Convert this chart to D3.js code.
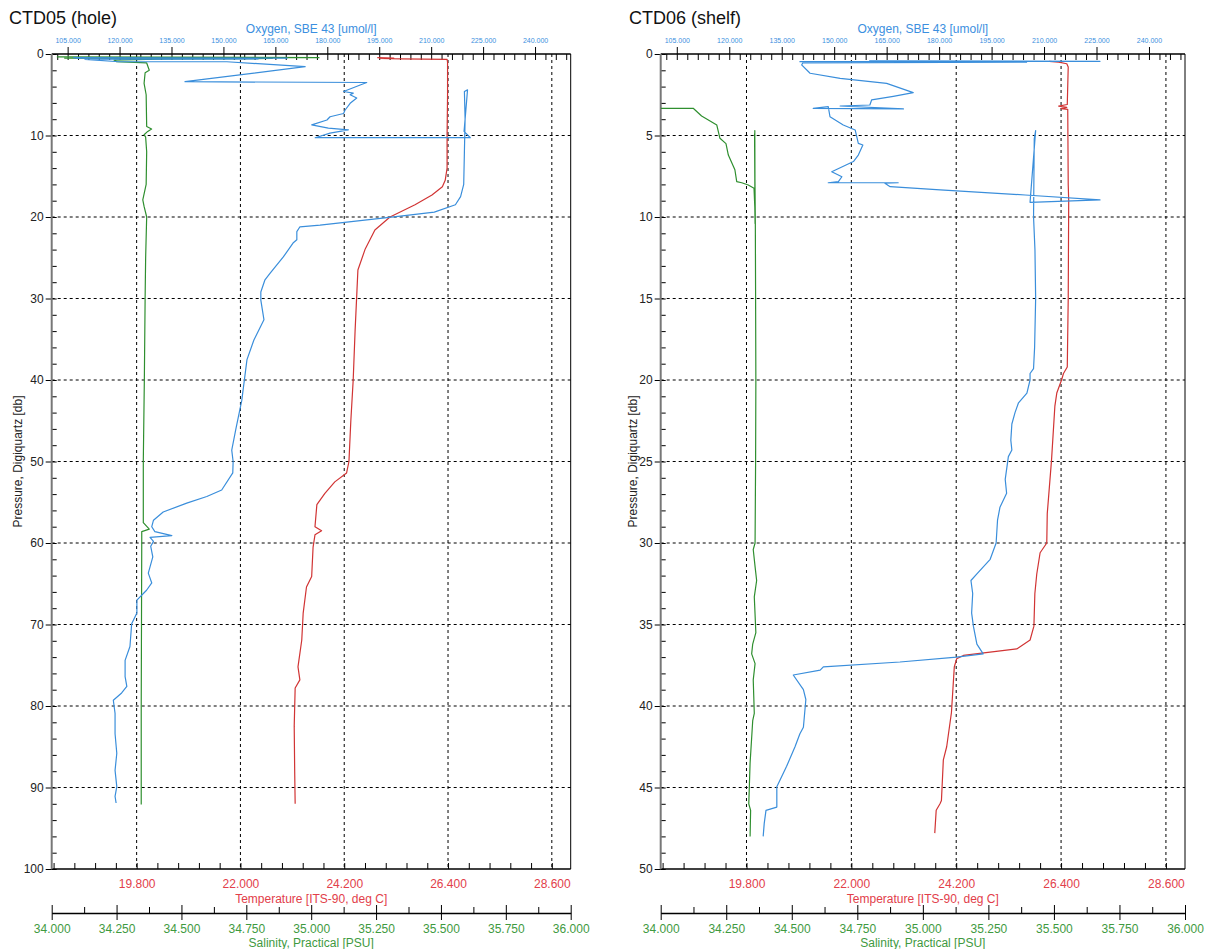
<html>
  <meta charset="utf-8" />
  <script src="https://d3js.org/d3.v7.min.js"></script>
  <style>
    body { margin: 0; background: #fff; }
    text { font-family: "Liberation Sans", Arial, sans-serif; }
  </style>
  <body>
    <div id="chart"></div>

    <script>
      // ---- data: [pressure (db), value] ----
      const ctd05Temp = [
        [0.45, 24.9], [0.5, 25.25], [0.55, 24.95], [0.6, 25.4], [0.65, 26.38], [1.0, 26.39],
        [5, 26.39], [10, 26.38], [14, 26.38], [15.5, 26.34], [16.3, 26.28], [17.3, 26.06],
        [18.5, 25.7], [20.0, 25.17], [21.6, 24.85], [24.0, 24.64], [26.5, 24.49], [29, 24.47],
        [34, 24.43], [40, 24.39], [45, 24.34], [50, 24.3], [51.4, 24.25], [52.5, 24.0],
        [53.9, 23.79], [55.3, 23.62], [58.0, 23.58], [58.5, 23.72], [59.0, 23.58], [60.5, 23.54],
        [64.1, 23.51], [65.4, 23.4], [68.6, 23.33], [71.9, 23.3], [75.2, 23.22], [76.8, 23.26],
        [77.8, 23.16], [82.5, 23.14], [88, 23.15], [92, 23.16]
      ];
      const ctd05Sal = [
        [0.35, 34.02], [0.45, 35.03], [0.5, 34.05], [0.55, 34.85], [0.6, 34.45], [0.75, 34.24],
        [0.95, 34.25], [1.1, 34.366], [2.0, 34.376], [2.3, 34.36], [3.6, 34.356], [5, 34.364],
        [8.9, 34.366], [9.2, 34.385], [9.5, 34.37], [9.9, 34.356], [10.2, 34.362], [12, 34.366],
        [16, 34.364], [17.9, 34.351], [18.7, 34.356], [20, 34.366], [25, 34.362], [30, 34.36],
        [40, 34.357], [50, 34.353], [57.5, 34.353], [58.3, 34.376], [58.6, 34.347], [60, 34.347],
        [70, 34.346], [80, 34.345], [92.1, 34.345]
      ];
      const ctd05Oxy = [
        [0.45, 106.6], [0.5, 168.4], [0.55, 107.5], [0.6, 160], [0.65, 110], [0.95, 119.8],
        [0.95, 151.0], [1.56, 173.6], [3.4, 138.9], [3.5, 191.4], [3.8, 189.5], [4.6, 184.7],
        [4.8, 187.5], [5.0, 186.6], [5.4, 188.5], [6.05, 186.6], [6.9, 185.1], [7.3, 184.7],
        [7.7, 180.8], [8.1, 179.9], [8.7, 175.5], [9.1, 180.3], [9.3, 186.1], [9.7, 180.8],
        [10.27, 176.5], [10.27, 221.3], [9.5, 219.5], [7, 220.0], [4.4, 220.5], [4.6, 219.6],
        [8, 219.8], [12, 219.6], [16, 219.4], [17.5, 218.5], [18.5, 217], [19.4, 210.9],
        [19.9, 201.1], [21.0, 177.9], [21.2, 172.1], [21.8, 171.2], [22.8, 171.2], [23.2, 170.1],
        [24.9, 167.3], [26.9, 163.5], [27.7, 162.0], [29.2, 160.8], [30.2, 160.8], [32.6, 161.7],
        [35.1, 158.8], [37.5, 156.8], [42.5, 155.3], [46, 153.6], [48.6, 152.4], [50, 152.8],
        [51.4, 152.7], [53.5, 149.5], [54.3, 145.2], [55.1, 139.4], [56.2, 132.6], [57.2, 129.8],
        [58.0, 129.3], [58.6, 130.2], [59.1, 135.1], [59.3, 128.8], [59.8, 129.8], [60.4, 129.0],
        [61.7, 129.6], [63.7, 128.3], [64.9, 129.3], [65.8, 127.8], [67, 125.0], [68.6, 125.0],
        [69.9, 123.5], [72.7, 123.0], [74.4, 121.6], [76.4, 121.6], [77.6, 122.1], [78.4, 120.6],
        [79.3, 118.2], [80.9, 118.7], [83.4, 118.7], [85.8, 119.2], [87.9, 118.7], [89.9, 119.2],
        [91.1, 118.7], [91.9, 119.0]
      ];

      const ctd06Temp = [
        [0.45, 26.15], [0.5, 26.35], [0.6, 26.52], [0.8, 26.55], [3.1, 26.53], [3.2, 26.35],
        [3.28, 26.52], [3.35, 26.4], [3.4, 26.54], [8, 26.55], [9, 26.56], [15, 26.55],
        [19.2, 26.53], [19.6, 26.45], [20, 26.41], [20.8, 26.31], [21.6, 26.27], [24.9, 26.2],
        [28.2, 26.11], [30.0, 26.1], [30.6, 25.96], [31.9, 25.89], [33.1, 25.85], [35.1, 25.83],
        [35.95, 25.75], [36.5, 25.47], [36.7, 24.91], [36.9, 24.35], [37.1, 24.21], [37.6, 24.16],
        [40.4, 24.1], [42.5, 24.0], [43.3, 23.93], [45.8, 23.89], [46.0, 23.86], [46.4, 23.78],
        [47.8, 23.75]
      ];
      const ctd06Sal = [
        [3.33, 34.0], [3.33, 34.124], [3.8, 34.156], [4.36, 34.214], [5.17, 34.226], [5.5, 34.249],
        [6.2, 34.258], [7.1, 34.283], [7.83, 34.29], [7.9, 34.309], [8.04, 34.334], [8.24, 34.356],
        [9.4, 34.359], [10.4, 34.36], [4.7, 34.359], [10.3, 34.36], [4.9, 34.358], [10.4, 34.361],
        [15, 34.362], [20, 34.363], [25, 34.362], [30, 34.36], [30.4, 34.353], [31.45, 34.36],
        [32.3, 34.366], [33.3, 34.357], [35.5, 34.363], [36.2, 34.351], [36.8, 34.347],
        [37.4, 34.36], [38.4, 34.353], [40.45, 34.357], [40.9, 34.351], [43.5, 34.341],
        [46.0, 34.336], [46.4, 34.343], [48.0, 34.341]
      ];
      const ctd06Oxy = [
        [0.42, 160], [0.45, 226], [0.47, 140.2], [0.5, 205], [0.55, 141], [0.67, 140.7],
        [1.18, 143.1], [1.5, 151.7], [1.8, 165.0], [2.37, 172.6], [2.6, 166.9], [2.82, 160.7],
        [3.13, 160.2], [3.19, 151.7], [3.37, 169.8], [3.33, 144.0], [3.23, 148.3], [3.85, 148.8],
        [4.36, 152.6], [4.66, 156.0], [5.48, 156.9], [5.58, 158.2], [6.2, 156.9], [6.6, 155.5],
        [7.22, 149.3], [7.53, 152.2], [7.83, 151.2], [7.9, 148.3], [7.9, 168.3], [7.93, 164.5],
        [8.14, 166.0], [8.34, 180.3], [8.65, 204.6], [8.95, 226.0], [9.1, 206.0], [4.7, 207.6],
        [5.2, 207.2], [10, 207.0], [12, 207.4], [15, 207.6], [18, 207.3], [19.3, 207.0],
        [19.6, 206.0], [20, 206.0], [20.8, 205.1], [21.4, 202.7], [22.0, 201.7], [22.7, 200.8],
        [23.7, 200.5], [24.3, 200.8], [24.7, 199.8], [26.1, 198.9], [26.95, 199.3], [27.8, 197.4],
        [28.6, 196.7], [30.0, 196.3], [31.0, 194.6], [31.9, 190.8], [32.3, 189.1], [33.1, 189.6],
        [34.3, 189.3], [35.1, 189.8], [36.2, 190.8], [36.8, 192.6], [37.0, 185.0], [37.3, 168.8],
        [37.6, 146.9], [37.8, 146.0], [38.1, 138.3], [39.0, 141.2], [39.6, 141.9], [41.3, 141.2],
        [41.7, 140.2], [42.5, 138.8], [43.7, 136.4], [44.95, 133.6], [46.2, 133.6], [46.4, 130.5],
        [47.2, 130.0], [48.0, 129.7]
      ];

      // tick values
      const oxyTicks = [105, 120, 135, 150, 165, 180, 195, 210, 225, 240];
      const tempTicks = [19.8, 22.0, 24.2, 26.4, 28.6];
      const salTicks = [34.0, 34.25, 34.5, 34.75, 35.0, 35.25, 35.5, 35.75, 36.0];

      const oxyColor = "#3a8edb";
      const tempColor = "#d13434";
      const salColor = "#2f8f2f";
      const oxyText = "#3b8fe0";
      const tempText = "#e2404a";
      const salText = "#3f9a3f";

      const svg = d3
        .select("#chart")
        .append("svg")
        .attr("width", 1209)
        .attr("height", 949);

      const plotTop = 54;
      const plotBottom = 869;
      const fontFam = "'Liberation Sans', Arial, sans-serif";

      function drawPanel(cfg) {
        const g = svg.append("g");
        const L = cfg.left, R = cfg.right;

        const y = d3.scaleLinear().domain([0, cfg.pMax]).range([plotTop, plotBottom]);
        const temp = d3.scaleLinear().domain([18, 29]).range([L, R]);
        const oxy = d3.scaleLinear().domain([100.4, 250.3]).range([L, R]);
        const sal = d3.scaleLinear().domain([34, 36]).range([L, R]);

        // dashed grid
        const pMajors = d3.range(0, cfg.pMax + 0.001, cfg.pStep);
        g.append("g")
          .selectAll("line")
          .data(pMajors.slice(1, -1))
          .join("line")
          .attr("x1", L).attr("x2", R)
          .attr("y1", d => y(d)).attr("y2", d => y(d))
          .attr("stroke", "#000")
          .attr("stroke-dasharray", "3,3");
        g.append("g")
          .selectAll("line")
          .data(tempTicks)
          .join("line")
          .attr("x1", d => temp(d)).attr("x2", d => temp(d))
          .attr("y1", plotTop).attr("y2", plotBottom)
          .attr("stroke", "#000")
          .attr("stroke-dasharray", "3,3");

        // right border
        g.append("line")
          .attr("x1", R).attr("x2", R).attr("y1", plotTop).attr("y2", plotBottom)
          .attr("stroke", "#000");

        // top oxygen axis
        const oxyMinor = d3.range(102, 250, 3);
        const ax1 = g.append("g")
          .attr("transform", `translate(0,${plotTop})`)
          .call(d3.axisTop(oxy).tickValues(oxyTicks).tickSize(7).tickSizeOuter(0)
            .tickPadding(4).tickFormat(d3.format(".3f")));
        ax1.select(".domain").remove();
        ax1.selectAll("text").attr("font-size", 7).attr("fill", oxyText).style("font-family", fontFam);
        const ax2 = g.append("g")
          .attr("transform", `translate(0,${plotTop})`)
          .call(d3.axisBottom(oxy).tickValues(oxyMinor).tickSize(6).tickSizeOuter(0).tickFormat(""));
        ax2.select(".domain").remove();
        g.append("line")
          .attr("x1", L).attr("x2", R).attr("y1", plotTop).attr("y2", plotTop)
          .attr("stroke", "#000").attr("stroke-width", 1.5);
        g.append("text")
          .attr("x", (L + R) / 2).attr("y", 33)
          .attr("text-anchor", "middle")
          .attr("font-size", 12)
          .attr("fill", oxyText)
          .text("Oxygen, SBE 43 [umol/l]");

        // bottom temperature axis
        const tempMinor = d3.range(-4, 21).map(k => 19.8 + k * 0.44).filter(v => v >= 18 && v <= 28.7);
        const ax3 = g.append("g")
          .attr("transform", `translate(0,${plotBottom})`)
          .call(d3.axisBottom(temp).tickValues(tempMinor).tickSize(-6).tickSizeOuter(0).tickFormat(""));
        ax3.select(".domain").remove();
        const ax4 = g.append("g")
          .attr("transform", `translate(0,${plotBottom})`)
          .call(d3.axisBottom(temp).tickValues(tempTicks).tickSize(0).tickSizeOuter(0)
            .tickFormat(d3.format(".3f")));
        ax4.select(".domain").remove();
        ax4.selectAll("text").attr("y", 19).attr("dy", 0).attr("font-size", 12).attr("fill", tempText)
          .style("font-family", fontFam);
        g.append("line")
          .attr("x1", L).attr("x2", R).attr("y1", plotBottom).attr("y2", plotBottom)
          .attr("stroke", "#000").attr("stroke-width", 1.5);
        g.append("text")
          .attr("x", (L + R) / 2).attr("y", 903)
          .attr("text-anchor", "middle")
          .attr("font-size", 12)
          .attr("fill", tempText)
          .text("Temperature [ITS-90, deg C]");

        // salinity axis (separate, below)
        const salY = 913;
        const salMinor = d3.range(34.125, 36, 0.25);
        const ax5 = g.append("g")
          .attr("transform", `translate(0,${salY})`)
          .call(d3.axisTop(sal).tickValues(salMinor).tickSize(6).tickSizeOuter(0).tickFormat(""));
        ax5.select(".domain").remove();
        const ax6 = g.append("g")
          .attr("transform", `translate(0,${salY})`)
          .call(d3.axisTop(sal).tickValues(salTicks).tickSize(8).tickSizeOuter(0).tickFormat(""));
        ax6.select(".domain").remove();
        const ax7 = g.append("g")
          .attr("transform", `translate(0,${salY})`)
          .call(d3.axisBottom(sal).tickValues(salTicks).tickSize(7).tickSizeOuter(0)
            .tickFormat(d3.format(".3f")));
        ax7.select(".domain").attr("stroke-width", 1.5);
        ax7.selectAll("text").attr("y", 20).attr("dy", 0).attr("font-size", 12).attr("fill", salText)
          .style("font-family", fontFam);
        g.append("text")
          .attr("x", (L + R) / 2).attr("y", 947)
          .attr("text-anchor", "middle")
          .attr("font-size", 12)
          .attr("fill", salText)
          .text("Salinity, Practical [PSU]");

        // left pressure axis
        const pMinor = d3.range(0, cfg.pMax + 0.001, cfg.pMinor);
        const ax8 = g.append("g")
          .attr("transform", `translate(${L},0)`)
          .call(d3.axisRight(y).tickValues(pMinor).tickSize(5).tickSizeOuter(0).tickFormat(""));
        ax8.select(".domain").remove();
        const ax9 = g.append("g")
          .attr("transform", `translate(${L},0)`)
          .call(d3.axisLeft(y).tickValues(pMajors).tickSize(6).tickSizeOuter(0).tickPadding(2));
        ax9.select(".domain").remove();
        ax9.selectAll("text").attr("font-size", 12).attr("fill", "#222").style("font-family", fontFam);
        g.append("line")
          .attr("x1", L).attr("x2", L).attr("y1", plotTop).attr("y2", plotBottom)
          .attr("stroke", "#777").attr("stroke-width", 2);
        g.append("text")
          .attr("transform", `translate(${cfg.yTitleX},${(plotTop + plotBottom) / 2}) rotate(-90)`)
          .attr("text-anchor", "middle")
          .attr("font-size", 12)
          .attr("fill", "#222")
          .text("Pressure, Digiquartz [db]");

        // panel title
        g.append("text")
          .attr("x", cfg.titleX).attr("y", 24)
          .attr("font-size", 18)
          .attr("fill", "#111")
          .text(cfg.title);

        // profiles
        const clip = "clip" + cfg.id;
        svg.append("clipPath").attr("id", clip)
          .append("rect").attr("x", L).attr("y", plotTop).attr("width", R - L).attr("height", plotBottom - plotTop);
        const lines = g.append("g").attr("clip-path", `url(#${clip})`);

        function profile(data, scale, color) {
          lines.append("path")
            .datum(data)
            .attr("fill", "none")
            .attr("stroke", color)
            .attr("stroke-width", 1.2)
            .attr("stroke-linejoin", "round")
            .attr("d", d3.line().x(d => scale(d[1])).y(d => y(d[0])));
        }
        profile(cfg.sal, sal, salColor);
        profile(cfg.temp, temp, tempColor);
        profile(cfg.oxy, oxy, oxyColor);
      }

      drawPanel({
        id: 5, left: 51.7, right: 570.7, pMax: 100, pStep: 10, pMinor: 2,
        title: "CTD05 (hole)", titleX: 9, yTitleX: 22,
        temp: ctd05Temp, sal: ctd05Sal, oxy: ctd05Oxy
      });
      drawPanel({
        id: 6, left: 660.7, right: 1185, pMax: 50, pStep: 5, pMinor: 1,
        title: "CTD06 (shelf)", titleX: 629, yTitleX: 637,
        temp: ctd06Temp, sal: ctd06Sal, oxy: ctd06Oxy
      });
    </script>
  </body>
</html>
